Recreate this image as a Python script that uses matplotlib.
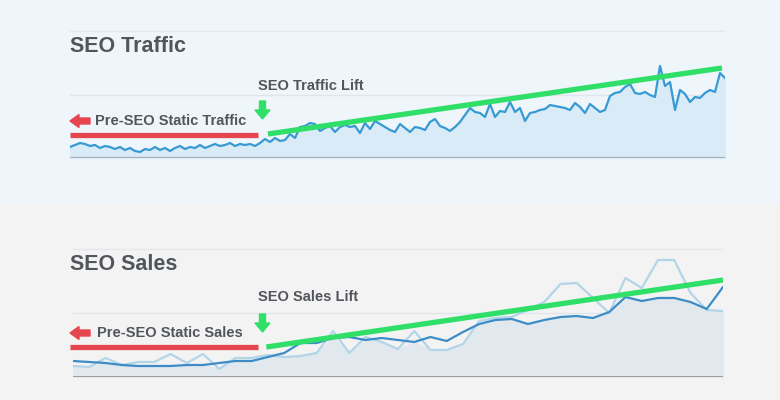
import numpy as np
import matplotlib.pyplot as plt
from matplotlib.patches import Rectangle, FancyArrow

# weekly organic traffic (height above the chart floor)
traffic = [11, 13, 15, 14, 12, 13, 10, 12, 11, 9, 11, 8, 10, 7, 6, 9, 8, 11, 8, 10,
           7, 10, 12, 9, 11, 10, 13, 10, 12, 14, 12, 13, 15, 12, 14, 13, 14, 12, 15, 19,
           16, 20, 17, 18, 24, 20, 31, 32, 35, 34, 27, 30, 32, 26, 31, 33, 31, 32, 25, 35,
           29, 37, 34, 31, 28, 26, 34, 30, 26, 31, 30, 28, 36, 39, 32, 30, 27, 31, 36, 43,
           50, 46, 45, 41, 54, 41, 47, 46, 56, 46, 50, 37, 45, 46, 48, 49, 53, 52, 51, 50,
           48, 55, 51, 45, 54, 50, 46, 48, 62, 65, 66, 71, 74, 65, 64, 66, 63, 61, 92, 72,
           76, 48, 68, 64, 56, 61, 60, 65, 68, 66, 85, 80]

# sales, current period and comparison period
sales = [16, 15, 14, 12, 11, 11, 11, 12, 12, 14, 16, 16, 20, 24, 34, 34, 39, 40, 37, 39,
         37, 35, 40, 36, 45, 53, 57, 58, 53, 57, 60, 61, 59, 65, 80, 76, 79, 79, 75, 68, 90]
sales_prev = [11, 10, 19, 12, 15, 15, 23, 14, 23, 8, 19, 19, 22, 20, 21, 24, 46, 24, 40, 35,
              28, 46, 27, 27, 33, 56, 59, 60, 67, 75, 93, 94, 79, 64, 99, 89, 117, 117, 84, 67, 66]

# static level before SEO and the lift trend after it: [start index, end index], [start value, end value]
traffic_static_x = [0, 37.6]
traffic_static_y = [23, 23]
traffic_lift_x = [39.6, 130.4]
traffic_lift_y = [24, 90]
sales_static_x = [-0.2, 11.4]
sales_static_y = [30, 30]
sales_lift_x = [11.9, 40]
sales_lift_y = [30, 97]

#-------------------------------------------------------------------------------------------------

fig = plt.figure(figsize=(7.8, 4), dpi=100)
fig.patches.append(Rectangle((0, 0.495), 1, 0.505, transform=fig.transFigure, color='#eef5fb', zorder=-10))
fig.patches.append(Rectangle((0, 0), 1, 0.495, transform=fig.transFigure, color='#f3f3f3', zorder=-10))

def px(x, y):
    # image pixel (from top-left) -> inches from bottom-left
    return x / 100, (400 - y) / 100

text_col = '#52565c'
red = '#e5464f'
green = '#2fdf68'

def setup(ax, top):
    ax.set_facecolor('none')
    for s in ax.spines.values():
        s.set_visible(False)
    ax.set_xticks([])
    ax.set_yticks([])
    ax.axhline(top / 2, color='#dfe5ea', lw=1, zorder=0)
    ax.axhline(top, color='#e3e8ec', lw=1, zorder=0)

#-------------------------------------------------------------------------------------------------
# SEO Traffic

ax1 = fig.add_axes([70 / 780, 242 / 400, 655 / 780, 128 / 400])
setup(ax1, 127)
x1 = np.arange(len(traffic))
ax1.fill_between(x1, traffic, 0, color='#d9ebf7', zorder=1)
ax1.plot(x1, traffic, color='#379ad3', lw=1.6, zorder=3)
ax1.axhline(0, color='#a7b1ba', lw=1.6, zorder=2)
ax1.plot(traffic_static_x, traffic_static_y, color=red, lw=3.8, solid_capstyle='butt', zorder=4)
ax1.plot(traffic_lift_x, traffic_lift_y, color=green, lw=3.8, solid_capstyle='butt', zorder=4)
ax1.set_xlim(0, len(traffic) - 1)
ax1.set_ylim(0, 128)

#-------------------------------------------------------------------------------------------------
# SEO Sales

ax2 = fig.add_axes([73 / 780, 23 / 400, 650 / 780, 129 / 400])
setup(ax2, 128)
x2 = np.arange(len(sales))
ax2.fill_between(x2, np.minimum(sales, sales_prev), 0, color='#e1e9ef', zorder=1)
ax2.plot(x2, sales_prev, color='#b3d5e8', lw=1.6, zorder=2)
ax2.plot(x2, sales, color='#3d8cc6', lw=1.6, zorder=3)
ax2.axhline(0, color='#9c9c9c', lw=1.4, zorder=2)
ax2.plot(sales_static_x, sales_static_y, color=red, lw=3.8, solid_capstyle='butt', zorder=4, clip_on=False)
ax2.plot(sales_lift_x, sales_lift_y, color=green, lw=3.8, solid_capstyle='butt', zorder=4)
ax2.set_xlim(0, len(sales) - 1)
ax2.set_ylim(0, 129)

#-------------------------------------------------------------------------------------------------
# titles and labels

font = ['Liberation Sans', 'DejaVu Sans']
fig.text(*px(70, 47), "SEO Traffic", transform=fig.dpi_scale_trans, fontsize=15.5, fontweight='bold',
         color=text_col, va='center', family=font)
fig.text(*px(70, 265), "SEO Sales", transform=fig.dpi_scale_trans, fontsize=15.5, fontweight='bold',
         color=text_col, va='center', family=font)
fig.text(*px(258, 86), "SEO Traffic Lift", transform=fig.dpi_scale_trans, fontsize=10.5, fontweight='bold',
         color=text_col, va='center', family=font)
fig.text(*px(258, 297), "SEO Sales Lift", transform=fig.dpi_scale_trans, fontsize=10.5, fontweight='bold',
         color=text_col, va='center', family=font)
fig.text(*px(95, 121), "Pre-SEO Static Traffic", transform=fig.dpi_scale_trans, fontsize=10.5, fontweight='bold',
         color=text_col, va='center', family=font)
fig.text(*px(97, 333), "Pre-SEO Static Sales", transform=fig.dpi_scale_trans, fontsize=10.5, fontweight='bold',
         color=text_col, va='center', family=font)

# arrows
for ytop in [121, 333]:
    x0, y0 = px(90, ytop)
    fig.patches.append(FancyArrow(x0, y0, -0.2, 0, width=0.06, head_width=0.13, head_length=0.09,
                                  length_includes_head=True, color=red, transform=fig.dpi_scale_trans))
for ytop in [101, 314]:
    x0, y0 = px(262.5, ytop)
    fig.patches.append(FancyArrow(x0, y0, 0, -0.18, width=0.06, head_width=0.15, head_length=0.09,
                                  length_includes_head=True, color=green, transform=fig.dpi_scale_trans))

plt.savefig('out.png', dpi=100)
